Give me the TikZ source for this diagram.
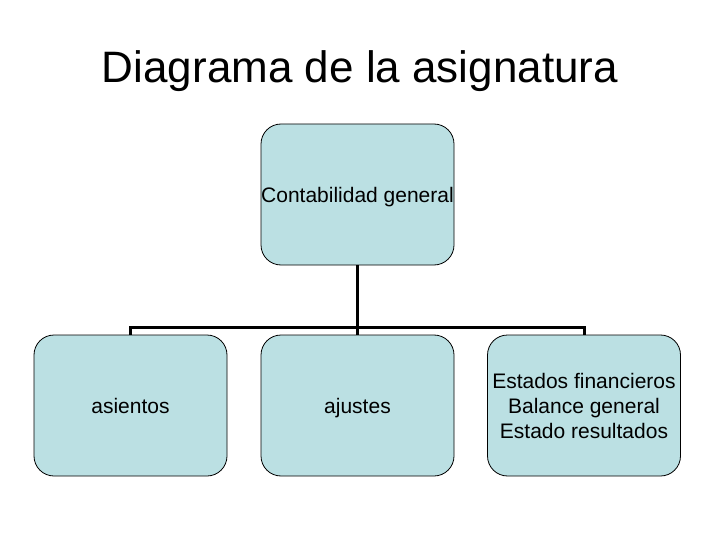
\documentclass[tikz,border=0pt]{standalone}
\usepackage{fontspec}
\setmainfont{Liberation Sans}
\definecolor{boxfill}{RGB}{187,224,227}
\newcommand\cardstrut{\rule[-4.5pt]{0pt}{25pt}}
\begin{document}
\begin{tikzpicture}[x=1pt,y=-1pt,
  card/.style={draw=black, line width=0.8pt, fill=boxfill, rounded corners=20pt,
    minimum width=193pt, minimum height=141pt, inner sep=0pt, align=center,
    font=\fontsize{21}{25}\selectfont},
  link/.style={line width=3pt}]
\useasboundingbox (0,0) rectangle (720,540);
\node[font=\fontsize{44}{50}\selectfont] (title) at (360,71) {Diagrama de la asignatura};
\node[card] (top) at (357.5,194.5) {\cardstrut Contabilidad general};
\node[card] (a) at (130.5,405.5) {\cardstrut asientos};
\node[card] (b) at (357.5,405.5) {\cardstrut ajustes};
\node[card] (c) at (584,405.5) {\cardstrut Estados financieros\\\cardstrut Balance general\\\cardstrut Estado resultados};
\coordinate (hub) at (357.5,327);
\draw[link] (top.south) -- (hub);
\draw[link] (a.north) |- (hub) -| (c.north);
\draw[link] (hub) -- (b.north);
\end{tikzpicture}
\end{document}
